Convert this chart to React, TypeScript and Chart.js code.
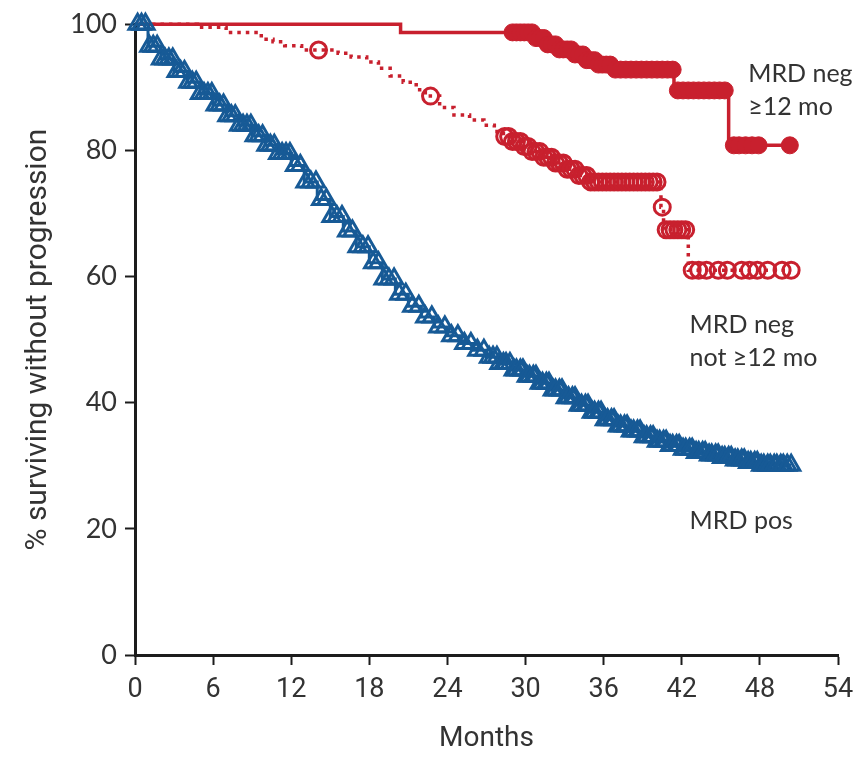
import React, { useEffect, useRef } from "react";
import { Chart, registerables } from "chart.js";

Chart.register(...registerables);

// ---- axis ticks ----
const xTickValues = [0, 6, 12, 18, 24, 30, 36, 42, 48, 54];
const yTickValues = [0, 20, 40, 60, 80, 100];

// ---- MRD neg >=12 mo (solid red) : KM step events ----
const negLongT = [0, 20.4, 30.6, 31.6, 32.6, 33.6, 34.6, 35.6, 36.6, 41.4, 45.6, 50.3];
const negLongS = [100, 98.7, 97.8, 96.8, 96.0, 95.2, 94.3, 93.6, 92.8, 89.5, 80.8, 80.8];
const negLongCensorT = [
  29.0, 29.3, 29.6, 29.9, 30.2, 30.5, 30.8, 31.1, 31.4, 31.7, 32.0, 32.3, 32.6, 32.9, 33.2,
  33.5, 33.8, 34.1, 34.4, 34.7, 35.0, 35.3, 35.6, 35.9, 36.2, 36.5, 36.9, 37.3, 37.7, 38.1,
  38.5, 38.9, 39.3, 39.7, 40.1, 40.5, 40.9, 41.3, 41.7, 42.1, 42.5, 42.9, 43.3, 43.7, 44.1,
  44.5, 44.9, 45.3, 46.0, 46.4, 46.9, 47.4, 47.9, 50.3,
];

// ---- MRD neg not >=12 mo (dotted red) ----
const negShortT = [
  0, 4.8, 7.0, 9.7, 10.6, 11.5, 12.8, 15.6, 16.6, 17.8, 18.7, 19.6, 20.6, 21.6, 22.3, 23.4,
  24.5, 25.7, 26.8, 27.6, 28.3, 29.0, 29.7, 30.5, 31.3, 32.1, 33.0, 34.0, 35.0, 40.4, 40.6,
  42.5, 50.4,
];
const negShortS = [
  100, 99.5, 98.7, 97.6, 97.2, 96.6, 95.9, 95.4, 94.8, 94.0, 93.0, 91.8, 90.8, 89.6, 88.6, 86.8,
  85.6, 84.8, 84.0, 83.0, 82.2, 81.4, 80.6, 79.8, 78.9, 78.0, 77.0, 76.0, 75.0, 71.0, 67.4,
  61.0, 61.0,
];
const negShortCensorT = [
  14.1, 22.7, 28.4, 28.7, 29.0, 29.3, 29.6, 29.9, 30.2, 30.5, 30.8, 31.1, 31.4, 31.7, 32.0,
  32.3, 32.6, 32.9, 33.2, 33.5, 33.8, 34.1, 34.4, 34.7, 35.0, 35.3, 35.6, 35.9, 36.2, 36.5,
  36.8, 37.1, 37.4, 37.7, 38.0, 38.3, 38.6, 38.9, 39.2, 39.5, 39.8, 40.1, 40.5, 40.8, 41.1,
  41.4, 41.7, 42.0, 42.3, 42.8, 43.3, 43.9, 44.8, 45.5, 46.6, 47.2, 47.8, 48.6, 49.7, 50.4,
];

// ---- MRD pos (blue) ----
const posT = [
  0, 1, 2, 3, 4, 5, 6, 7, 8, 9, 10, 11, 12, 13, 14, 15, 16, 17, 18, 19, 20, 21, 22, 23, 24,
  25, 26, 27, 28, 29, 30, 31, 32, 33, 34, 35, 36, 37, 38, 39, 40, 41, 42, 43, 44, 45, 46, 47,
  48, 50.4,
];
const posS = [
  100, 96.5, 94.5, 92.5, 90.8, 89.0, 87.2, 85.5, 84.0, 82.3, 80.8, 79.5, 77.6, 75.0, 72.2,
  69.5, 67.2, 64.7, 62.2, 59.6, 57.2, 55.3, 53.6, 52.0, 50.6, 49.4, 48.3, 47.2, 46.2, 45.2,
  44.2, 43.1, 42.0, 40.8, 39.6, 38.5, 37.3, 36.3, 35.5, 34.6, 33.9, 33.2, 32.6, 32.1, 31.7,
  31.3, 30.9, 30.5, 30.1, 30.1,
];
const posCensorT = [
  0.2, 0.5, 0.8, 1.1, 1.4, 1.7, 2.0, 2.3, 2.6, 2.9, 3.2, 3.5, 3.8, 4.1, 4.4, 4.7, 5.0, 5.3,
  5.6, 5.9, 6.2, 6.5, 6.8, 7.1, 7.4, 7.7, 8.0, 8.3, 8.6, 8.9, 9.2, 9.5, 9.8, 10.1, 10.4, 10.7,
  11.0, 11.3, 11.6, 11.9, 12.3, 12.7, 13.1, 13.5, 13.9, 14.3, 14.7, 15.1, 15.5, 15.9, 16.3,
  16.7, 17.1, 17.5, 17.9, 18.3, 18.7, 19.1, 19.5, 19.9, 20.3, 20.8, 21.3, 21.8, 22.3, 22.8,
  23.3, 23.8, 24.3, 24.8, 25.3, 25.8, 26.3, 26.8, 27.2, 27.5, 27.8, 28.0, 28.3, 28.5, 28.8,
  29.1, 29.3, 29.6, 29.8, 30.1, 30.3, 30.6, 30.8, 31.1, 31.3, 31.6, 31.8, 32.1, 32.3, 32.6,
  32.8, 33.1, 33.3, 33.6, 33.8, 34.1, 34.3, 34.6, 34.8, 35.1, 35.3, 35.6, 35.8, 36.1, 36.3,
  36.6, 36.8, 37.1, 37.3, 37.6, 37.8, 38.1, 38.3, 38.6, 38.8, 39.1, 39.3, 39.6, 39.8, 40.1,
  40.3, 40.6, 40.8, 41.1, 41.3, 41.6, 41.8, 42.1, 42.3, 42.6, 42.8, 43.1, 43.3, 43.6, 43.8,
  44.1, 44.3, 44.6, 44.8, 45.1, 45.3, 45.6, 45.8, 46.1, 46.3, 46.6, 46.8, 47.1, 47.3, 47.6,
  47.8, 48.1, 48.3, 48.6, 48.8, 49.1, 49.3, 49.6, 49.8, 50.1, 50.4,
];

// ---- curve labels ----
const curveLabels = [
  { lines: ["MRD neg", "\u226512 mo"], x: 47.1, y: 92.1 },
  { lines: ["MRD neg", "not \u226512 mo"], x: 42.6, y: 52.4 },
  { lines: ["MRD pos"], x: 42.6, y: 21.3 },
];

const RED = "#c8202e";
const BLUE = "#175a96";
const AXIS = "#1c1c1c";
const TEXT = "#333333";
const TITLE_FONT = '"Roboto", "Noto Sans", sans-serif';
const REGULAR = '"Lato", "Noto Sans", sans-serif';

function stepAt(ts: number[], ss: number[], t: number) {
  let v = ss[0];
  for (let i = 0; i < ts.length; i++) if (ts[i] <= t) v = ss[i];
  return v;
}
const curve = (ts: number[], ss: number[]) => ts.map((t, i) => ({ x: t, y: ss[i] }));
const censor = (ct: number[], ts: number[], ss: number[]) =>
  ct.map((t) => ({ x: t, y: stepAt(ts, ss, t) }));

const labelPlugin = {
  id: "curveLabels",
  afterDatasetsDraw(chart: any) {
    const { ctx, scales } = chart;
    ctx.save();
    ctx.font = `25px ${REGULAR}`;
    ctx.fillStyle = TEXT;
    ctx.textAlign = "left";
    ctx.textBaseline = "middle";
    for (const l of curveLabels) {
      const x = scales.x.getPixelForValue(l.x);
      const y = scales.y.getPixelForValue(l.y);
      l.lines.forEach((s, i) => ctx.fillText(s, x, y + i * 33));
    }
    ctx.restore();
  },
};

export default function App() {
  const ref = useRef<HTMLCanvasElement | null>(null);
  useEffect(() => {
    if (!ref.current) return;
    const chart = new Chart(ref.current, {
      type: "line",
      data: {
        datasets: [
          {
            data: censor(posCensorT, posT, posS) as any,
            showLine: false,
            pointStyle: "triangle",
            pointRadius: 10,
            pointBorderWidth: 3,
            pointBorderColor: BLUE,
            pointBackgroundColor: "rgba(255,255,255,0)",
            clip: false as any,
            order: 1,
          },
          {
            data: curve(posT, posS) as any,
            stepped: "before",
            borderColor: BLUE,
            borderWidth: 3,
            pointRadius: 0,
            fill: false,
            clip: false as any,
            order: 2,
          },
          {
            data: censor(negLongCensorT, negLongT, negLongS) as any,
            showLine: false,
            pointStyle: "circle",
            pointRadius: 8.5,
            pointBorderWidth: 1,
            pointBorderColor: RED,
            pointBackgroundColor: RED,
            clip: false as any,
            order: 3,
          },
          {
            data: curve(negLongT, negLongS) as any,
            stepped: "before",
            borderColor: RED,
            borderWidth: 3.5,
            pointRadius: 0,
            fill: false,
            clip: false as any,
            order: 4,
          },
          {
            data: censor(negShortCensorT, negShortT, negShortS) as any,
            showLine: false,
            pointStyle: "circle",
            pointRadius: 8,
            pointBorderWidth: 3,
            pointBorderColor: RED,
            pointBackgroundColor: "rgba(255,255,255,0)",
            clip: false as any,
            order: 5,
          },
          {
            data: curve(negShortT, negShortS) as any,
            stepped: "before",
            borderColor: RED,
            borderWidth: 3.5,
            borderDash: [3.5, 5],
            pointRadius: 0,
            fill: false,
            clip: false as any,
            order: 6,
          },
        ],
      },
      options: {
        animation: false,
        responsive: true,
        maintainAspectRatio: false,
        layout: { padding: { left: 0, top: 20, right: 28, bottom: 0 } },
        plugins: { legend: { display: false }, tooltip: { enabled: false } },
        scales: {
          x: {
            type: "linear",
            min: 0,
            max: 54,
            afterBuildTicks: (s: any) => {
              s.ticks = xTickValues.map((v) => ({ value: v }));
            },
            afterFit: (s: any) => {
              s.height = 104;
            },
            grid: {
              drawOnChartArea: false,
              drawTicks: true,
              tickLength: 10,
              tickWidth: 2,
              color: AXIS,
            },
            border: { display: true, width: 3, color: AXIS },
            ticks: {
              autoSkip: false,
              maxRotation: 0,
              padding: 9,
              color: TEXT,
              font: { family: TITLE_FONT, size: 27 },
            },
            title: {
              display: true,
              text: "Months",
              color: TEXT,
              font: { family: TITLE_FONT, size: 28 },
              padding: { top: 0, bottom: 3 },
            },
          },
          y: {
            type: "linear",
            min: 0,
            max: 100,
            afterBuildTicks: (s: any) => {
              s.ticks = yTickValues.map((v) => ({ value: v }));
            },
            afterFit: (s: any) => {
              s.width = 135;
            },
            grid: {
              drawOnChartArea: false,
              drawTicks: true,
              tickLength: 10,
              tickWidth: 2,
              color: AXIS,
            },
            border: { display: true, width: 3, color: AXIS },
            ticks: {
              padding: 8,
              color: TEXT,
              font: { family: REGULAR, size: 27 },
            },
            title: {
              display: true,
              text: "% surviving without progression",
              color: TEXT,
              font: { family: TITLE_FONT, size: 30 },
              padding: { top: 20, bottom: 0 },
            },
          },
        },
      },
      plugins: [labelPlugin],
    });
    return () => chart.destroy();
  }, []);

  return (
    <div style={{ position: "fixed", left: 0, top: 0, width: 866, height: 759, background: "#fff" }}>
      <canvas ref={ref} />
    </div>
  );
}
